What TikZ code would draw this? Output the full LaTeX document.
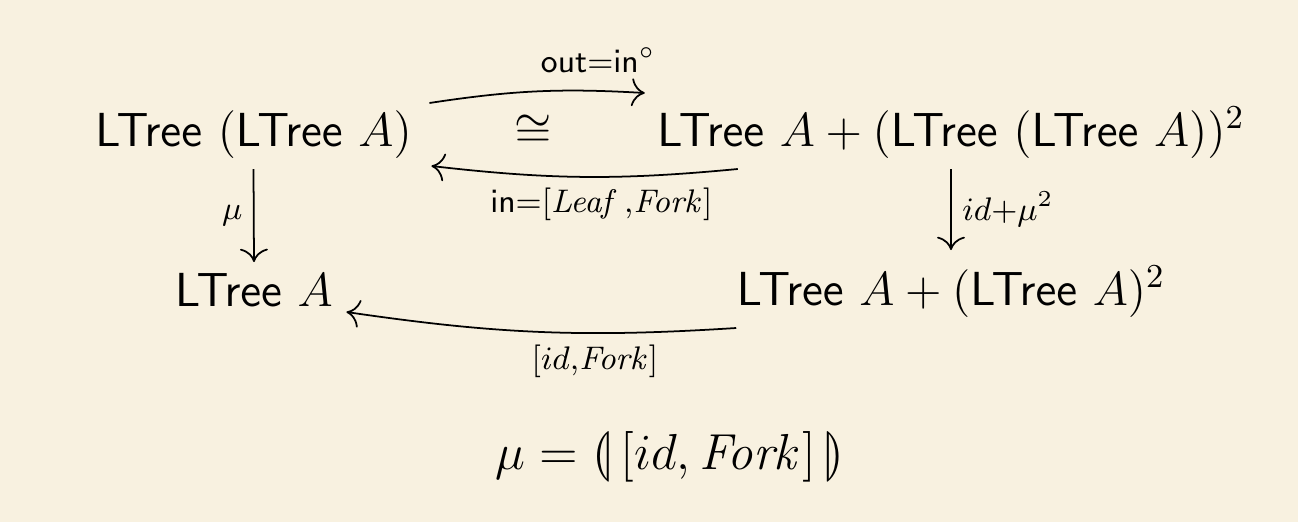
\RequirePackage{fix-cm}
\documentclass[tikz,border=0pt]{standalone}
\usepackage{amsmath,amssymb,stmaryrd}
\usepackage{tikz}
\usetikzlibrary{arrows.meta,positioning,calc}
\definecolor{parchment}{RGB}{248,241,224}
\tikzset{
  obj/.style={inner sep=0pt, anchor=base, font=\fontsize{13.6}{16}\selectfont},
  lbl/.style={font=\fontsize{9.3}{11}\selectfont, inner sep=3pt},
  arrow/.style={-{To[scale=1.4]}, line width=0.5pt}
}
\newcommand{\LTree}{\mathsf{LTree}}
\begin{document}
\begin{tikzpicture}
\fill[parchment] (0,0) rectangle (12.98,-5.22);
\useasboundingbox (0,0) rectangle (12.98,-5.22);
% objects
\node[obj] (topL) at (2.535,-1.46) {$\LTree\ (\LTree\ A)$};
\node[obj] (iso) at (5.33,-1.46) {$\cong$};
\node[obj] (topR) at (9.51,-1.46) {$\LTree\ A + (\LTree\ (\LTree\ A))^2$};
\node[obj] (botL) at (2.54,-3.06) {$\LTree\ A$};
\node[obj] (botR) at (9.51,-3.05) {$\LTree\ A + (\LTree\ A)^2$};
\node[obj, font=\Large] (mudef) at (6.70,-4.69) {$\mu = \llparenthesis\,[id,\mathit{Fork}]\,\rrparenthesis$};
% arrows
\draw[arrow] ([xshift=1.7mm,yshift=4.3mm]topL.base east) to[bend left=6]
  node[lbl, above, pos=0.8, yshift=2pt] (outlbl) {$\mathsf{out}{=}\mathsf{in}^{\circ}$}
  ([xshift=-1.2mm,yshift=5.3mm]topR.base west);
\draw[arrow] ([xshift=8.1mm,yshift=-2.3mm]topR.base west) to[bend left=6]
  node[lbl, below, pos=0.44] (inlbl) {$\mathsf{in}{=}[\mathit{Leaf}\,{,}\mathit{Fork}]$}
  ([xshift=1.9mm,yshift=-2.0mm]topL.base east);
\draw[arrow] ([yshift=-2.3mm]topL.base) --
  node[lbl, left] (mulbl) {$\mu$}
  ([yshift=4.4mm]botL.base);
\draw[arrow] ([yshift=-2.3mm]topR.base) --
  node[lbl, right] (maplbl) {$id{+}\mu^2$}
  ([yshift=5.5mm]botR.base);
\draw[arrow] ([yshift=-2.3mm]botR.base west) to[bend left=6]
  node[lbl, below, pos=0.35] (foldlbl) {$[id{,}\mathit{Fork}]$}
  ([xshift=1.3mm,yshift=-0.6mm]botL.base east);
\end{tikzpicture}
\end{document}
